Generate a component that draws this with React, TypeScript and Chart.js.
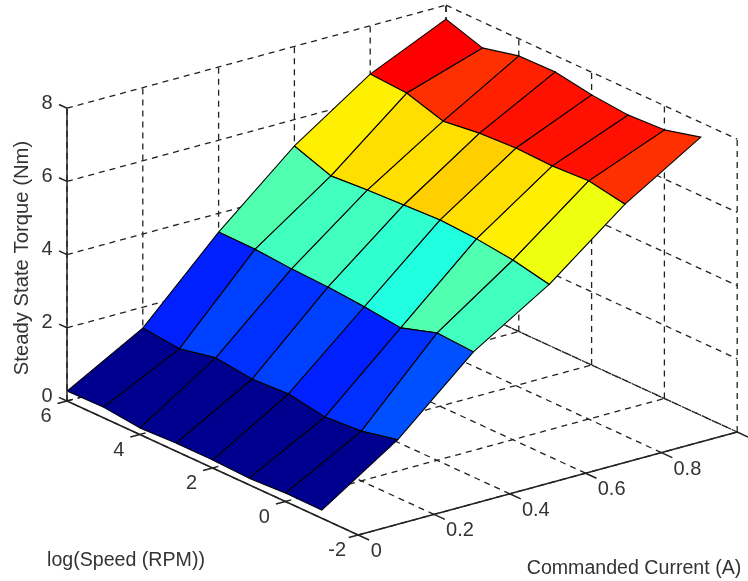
import React, { useEffect, useRef } from "react";
import { Chart, registerables } from "chart.js";

Chart.register(...registerables);

// Surface grid
const speeds = [6, 5, 4, 3, 2, 1, 0, -1];
const currents = [0, 0.2, 0.4, 0.6, 0.8, 1];
const torqueAtCurrent00 = [0.27, 0.29, 0.18, 0.22, 0.22, 0.18, 0.23, 0.22];
const torqueAtCurrent02 = [1.43, 1.32, 1.53, 1.41, 1.46, 1.29, 1.36, 1.58];
const torqueAtCurrent04 = [3.49, 3.48, 3.4, 3.36, 3.28, 3.16, 3.48, 3.42];
const torqueAtCurrent06 = [5.28, 4.92, 4.99, 5.04, 5.09, 5.03, 4.91, 4.7];
const torqueAtCurrent08 = [6.68, 6.62, 6.31, 6.44, 6.49, 6.46, 6.51, 6.33];
const torqueAtCurrent10 = [7.62, 7.29, 7.53, 7.55, 7.38, 7.29, 7.34, 7.6];
const torqueRows = [
  torqueAtCurrent00,
  torqueAtCurrent02,
  torqueAtCurrent04,
  torqueAtCurrent06,
  torqueAtCurrent08,
  torqueAtCurrent10,
];

// Axes
const speedTicks = [6, 4, 2, 0, -2];
const currentTicks = [0, 0.2, 0.4, 0.6, 0.8];
const currentGrid = [0, 0.2, 0.4, 0.6, 0.8, 1];
const torqueTicks = [0, 2, 4, 6, 8];
const speedLabel = "log(Speed (RPM))";
const currentLabel = "Commanded Current (A)";
const torqueLabel = "Steady State Torque (Nm)";

// View of the 3-D box on the page
const WIDTH = 748;
const HEIGHT = 581;
const project = (s: number, i: number, z: number) => ({
  x: 67 + (6 - s) * 36.4 + i * 379,
  y: 401 + (6 - s) * 16.75 - i * 103 - z * 36.6,
});

const jet = (t: number) => {
  const q = Math.min(63, Math.max(0, Math.floor(t * 64)));
  const v = (q + 1) / 64;
  const c = (x: number) => Math.round(255 * Math.min(1, Math.max(0, x)));
  return `rgb(${c(Math.min(4 * v - 1.5, -4 * v + 4.5))},${c(
    Math.min(4 * v - 0.5, -4 * v + 3.5)
  )},${c(Math.min(4 * v + 0.5, -4 * v + 2.5))})`;
};

const INK = "#333333";
const allTorques = torqueRows.flat();
const zMin = Math.min(...allTorques);
const zMax = Math.max(...allTorques);

const buildDatasets = () => {
  const line = (pts: { x: number; y: number }[], extra: object) => ({
    data: pts,
    showLine: true,
    pointRadius: 0,
    borderColor: INK,
    borderWidth: 1,
    fill: false,
    tension: 0,
    clip: false,
    ...extra,
  });
  const dashed = { borderDash: [6, 5], borderColor: "#222222", borderWidth: 1.3 };
  const solid = { borderColor: "#222222", borderWidth: 1.5 };
  const grid: object[] = [];
  const axes: object[] = [];
  const zTop = torqueTicks[torqueTicks.length - 1];
  const sFront = speedTicks[speedTicks.length - 1];
  const sBack = speedTicks[0];
  const iBack = currentGrid[currentGrid.length - 1];

  currentGrid.forEach((i) => {
    grid.push(line([project(sFront, i, 0), project(sBack, i, 0)], dashed));
    grid.push(line([project(sBack, i, 0), project(sBack, i, zTop)], dashed));
  });
  speedTicks.forEach((s) => {
    grid.push(line([project(s, 0, 0), project(s, iBack, 0)], dashed));
    grid.push(line([project(s, iBack, 0), project(s, iBack, zTop)], dashed));
  });
  torqueTicks.forEach((z) => {
    grid.push(line([project(sBack, 0, z), project(sBack, iBack, z)], dashed));
    grid.push(line([project(sBack, iBack, z), project(sFront, iBack, z)], dashed));
  });

  axes.push(line([project(sBack, 0, 0), project(sBack, 0, zTop)], solid));
  axes.push(line([project(sBack, 0, 0), project(sFront, 0, 0)], solid));
  axes.push(line([project(sFront, 0, 0), project(sFront, iBack, 0)], solid));
  speedTicks.forEach((s) =>
    axes.push(line([project(s, 0, 0), project(s, -0.025, 0)], solid))
  );
  currentGrid.forEach((i) =>
    axes.push(line([project(sFront, i, 0), project(sFront - 0.3, i, 0)], solid))
  );
  torqueTicks.forEach((z) =>
    axes.push(line([project(sBack, 0, z), project(sBack + 0.22, 0, z)], solid))
  );

  const cells: object[] = [];
  for (let r = 0; r < currents.length - 1; r++) {
    for (let c = 0; c < speeds.length - 1; c++) {
      const a = project(speeds[c], currents[r], torqueRows[r][c]);
      const b = project(speeds[c + 1], currents[r], torqueRows[r][c + 1]);
      const d = project(speeds[c + 1], currents[r + 1], torqueRows[r + 1][c + 1]);
      const e = project(speeds[c], currents[r + 1], torqueRows[r + 1][c]);
      const t = (torqueRows[r][c + 1] - zMin) / (zMax - zMin);
      cells.push(
        line([a, b, d, e, a], {
          borderColor: "#000000",
          borderWidth: 1.1,
          backgroundColor: jet(t),
          polygon: true,
        })
      );
    }
  }
  return [...axes, ...cells, ...grid];
};

const polygonFill = {
  id: "polygonFill",
  beforeDatasetDraw(chart: any, args: any) {
    const ds = chart.data.datasets[args.index];
    if (!ds.polygon) return;
    const pts = args.meta.data;
    const ctx = chart.ctx;
    ctx.save();
    ctx.beginPath();
    pts.forEach((p: any, k: number) =>
      k === 0 ? ctx.moveTo(p.x, p.y) : ctx.lineTo(p.x, p.y)
    );
    ctx.closePath();
    ctx.fillStyle = ds.backgroundColor;
    ctx.fill();
    ctx.restore();
  },
};

const axisText = {
  id: "axisText",
  afterDatasetsDraw(chart: any) {
    const ctx = chart.ctx;
    const sx = chart.scales.x;
    const sy = chart.scales.y;
    const put = (text: string, x: number, y: number) =>
      ctx.fillText(text, sx.getPixelForValue(x), sy.getPixelForValue(y));
    ctx.save();
    ctx.fillStyle = INK;
    ctx.textAlign = "center";
    ctx.textBaseline = "middle";
    ctx.font = "20px 'Liberation Sans'";
    torqueTicks.forEach((z) => {
      const p = project(6, 0, z);
      put(String(z), p.x - 20, p.y - 5);
    });
    speedTicks.forEach((s) => {
      const p = project(s, 0, 0);
      put(String(s), p.x - 21, p.y + 15.5);
    });
    currentTicks.forEach((i) => {
      const p = project(-2, i, 0);
      put(String(i), p.x + (i === 0 ? 18 : 26), p.y + 16.5);
    });
    ctx.font = "19.6px 'Liberation Sans'";
    put(speedLabel, 126, 561);
    put(currentLabel, 634, 568.5);
    ctx.font = "20.3px 'Liberation Sans'";
    ctx.translate(22, 258);
    ctx.rotate(-Math.PI / 2);
    ctx.fillText(torqueLabel, 0, 0);
    ctx.restore();
  },
};

export default function App() {
  const ref = useRef<HTMLCanvasElement>(null);
  useEffect(() => {
    const chart = new Chart(ref.current!, {
      type: "scatter",
      data: { datasets: buildDatasets() as any },
      plugins: [polygonFill, axisText],
      options: {
        animation: false,
        responsive: false,
        events: [],
        layout: { padding: 0 },
        plugins: { legend: { display: false }, tooltip: { enabled: false } },
        scales: {
          x: { type: "linear", min: 0, max: WIDTH, display: false },
          y: { type: "linear", min: 0, max: HEIGHT, reverse: true, display: false },
        },
      },
    });
    return () => chart.destroy();
  }, []);
  return (
    <div style={{ position: "absolute", left: 0, top: 0, width: WIDTH, height: HEIGHT, background: "#fff" }}>
      <canvas ref={ref} width={WIDTH} height={HEIGHT} style={{ display: "block", filter: "blur(0.45px)" }} />
    </div>
  );
}
